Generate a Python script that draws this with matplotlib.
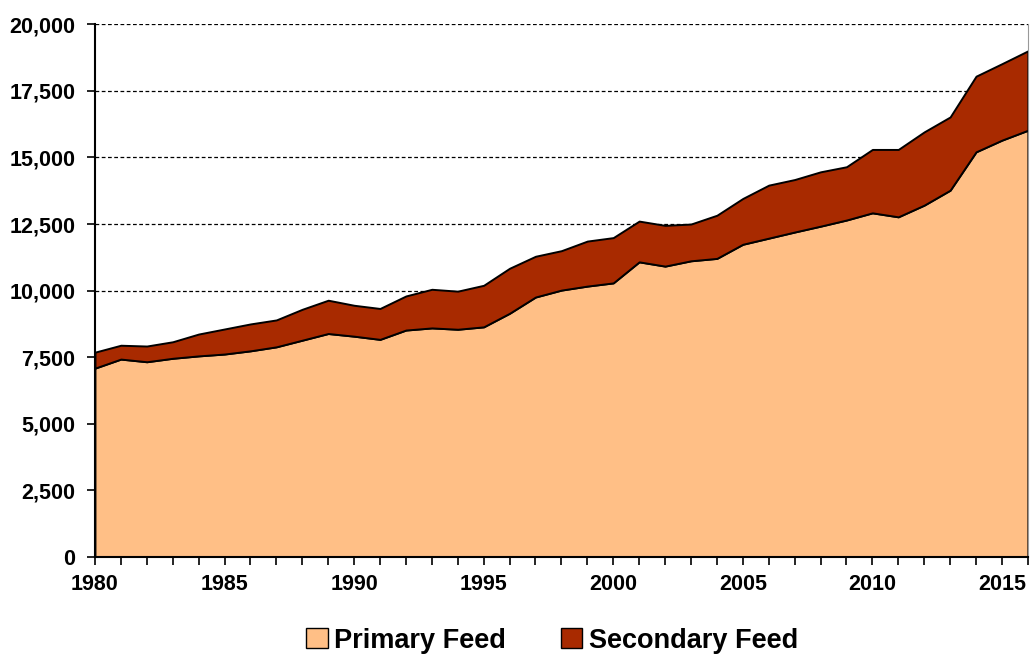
import matplotlib.pyplot as plt
from matplotlib.ticker import FuncFormatter, MultipleLocator
from matplotlib.patches import Patch

plt.rcParams['font.family'] = ['Liberation Sans', 'DejaVu Sans']
plt.rcParams['font.weight'] = 'bold'

anos = list(range(1980, 2017))
primaria = [7090, 7430, 7330, 7460, 7550, 7620, 7740, 7890, 8140, 8390,
            8290, 8170, 8520, 8600, 8550, 8640, 9150, 9760, 10020, 10170,
            10290, 11080, 10920, 11120, 11210, 11740, 11970, 12200, 12420, 12650,
            12920, 12770, 13210, 13770, 15210, 15650, 16020]
total = [7690, 7950, 7920, 8080, 8370, 8560, 8750, 8900, 9300, 9640,
         9450, 9330, 9800, 10050, 9980, 10200, 10840, 11290, 11500, 11860,
         11990, 12610, 12450, 12500, 12830, 13460, 13960, 14170, 14460, 14650,
         15300, 15300, 15960, 16520, 18050, 18520, 19000]
secundaria = [t - p for t, p in zip(total, primaria)]

cor_prim = '#FFBF86'
cor_sec = '#A82A00'

fig = plt.figure(figsize=(10.32, 6.55), dpi=100)
ax = fig.add_axes([0.092, 0.1496, 0.904, 0.8134])

ax.stackplot(anos, primaria, secundaria, colors=[cor_prim, cor_sec],
             edgecolor='black', linewidth=1.4, zorder=2)

ax.set_xlim(1980, 2016)
ax.set_ylim(0, 20000)
ax.yaxis.set_major_locator(MultipleLocator(2500))
ax.yaxis.set_major_formatter(FuncFormatter(lambda v, p: f'{int(v):,}'))
ax.xaxis.set_major_locator(MultipleLocator(5))
ax.xaxis.set_minor_locator(MultipleLocator(1))

ax.grid(axis='y', color='black', linestyle=(0, (3, 2)), linewidth=0.9, zorder=1)
ax.set_axisbelow(True)

ax.spines['top'].set_visible(False)
ax.spines['right'].set_color('#999999')
ax.spines['left'].set_linewidth(1.5)
ax.spines['bottom'].set_linewidth(1.5)

ax.tick_params(axis='both', labelsize=15.5, width=1.2)
ax.tick_params(axis='x', which='major', length=6, pad=6)
ax.tick_params(axis='x', which='minor', length=6, width=1.2)
ax.tick_params(axis='y', length=6, pad=8)

handles = [Patch(facecolor=cor_prim, edgecolor='black', label='Primary Feed'),
           Patch(facecolor=cor_sec, edgecolor='black', label='Secondary Feed')]
fig.legend(handles=handles, loc='lower center', bbox_to_anchor=(0.535, -0.035),
           ncol=2, frameon=False, fontsize=19.5, handlelength=0.8, handleheight=0.8,
           handletextpad=0.25, columnspacing=2.0)

plt.savefig('out.png', dpi=100)
